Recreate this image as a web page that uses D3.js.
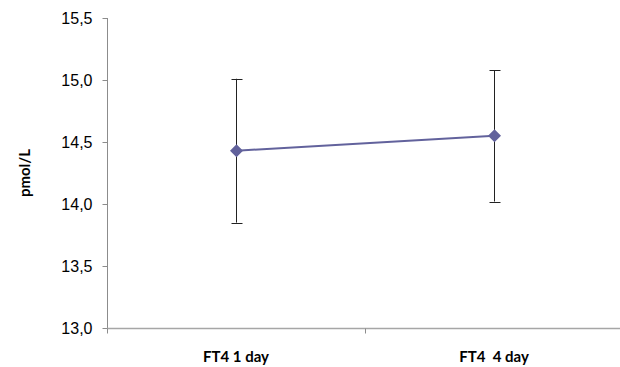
<!DOCTYPE html>
<html>
<head>
<meta charset="utf-8">
<script src="https://d3js.org/d3.v7.min.js"></script>
<style>
  body { margin: 0; background: #fff; }
  #chart { font-family: Lato, "Open Sans", sans-serif; }
  .axis text { font-size: 16px; fill: #000; }
  .x-label { font-size: 15px; font-weight: bold; }
</style>
</head>
<body>
<div id="chart"></div>
<script>
  // data
  var categories = ["FT4 1 day", "FT4  4 day"];
  var means = [14.43, 14.55];
  var errHigh = [15.01, 15.08];
  var errLow = [13.85, 14.02];
  var yTicks = [13.0, 13.5, 14.0, 14.5, 15.0, 15.5];

  var W = 620, H = 367;
  var margin = { top: 18, right: -3, bottom: 39, left: 107 };
  var width = W - margin.left - margin.right,
      height = H - margin.top - margin.bottom;

  var svg = d3.select("#chart").append("svg")
      .attr("width", W).attr("height", H);
  var g = svg.append("g")
      .attr("transform", "translate(" + margin.left + "," + margin.top + ")");

  var x = d3.scaleBand().domain(categories).range([0, width]);
  var y = d3.scaleLinear().domain([13, 15.5]).range([height, 0]);

  var fmt = function(d) { return d3.format(".1f")(d).replace(".", ","); };

  // y axis
  var yAxis = g.append("g").attr("class", "axis")
      .attr("transform", "translate(0.5,0)")
      .call(d3.axisLeft(y).tickValues(yTicks).tickFormat(fmt).tickSize(5).tickPadding(10));
  yAxis.selectAll("path, line").attr("stroke", "#8c8c8c");
  yAxis.select(".domain").attr("d", "M0," + y(13) + "V" + y(15.5));

  // x axis line + boundary ticks
  var xg = g.append("g").attr("transform", "translate(0," + (height + 0.5) + ")");
  xg.append("line").attr("x1", 0).attr("x2", width).attr("stroke", "#a6a6a6").attr("stroke-width", 1.5);
  xg.selectAll(".bt").data([0, 1]).enter().append("line")
      .attr("x1", function(i) { return Math.round(x(categories[i])) + 0.5; })
      .attr("x2", function(i) { return Math.round(x(categories[i])) + 0.5; })
      .attr("y1", 0).attr("y2", 5)
      .attr("stroke", "#8c8c8c");
  xg.selectAll(".x-label").data(categories).enter().append("text")
      .attr("class", "x-label")
      .attr("x", function(d) { return x(d) + x.bandwidth() / 2; })
      .attr("y", 33)
      .attr("text-anchor", "middle")
      .style("white-space", "pre")
      .attr("xml:space", "preserve")
      .text(function(d) { return d; });

  // y title
  svg.append("text")
      .attr("transform", "translate(30," + (margin.top + height / 2) + ") rotate(-90)")
      .attr("text-anchor", "middle")
      .attr("font-size", "15px").attr("font-weight", "bold")
      .text("pmol/L");

  var cx = function(i) { return Math.round(x(categories[i]) + x.bandwidth() / 2) + 0.5; };
  var idx = d3.range(categories.length);

  // error bars
  var eb = g.append("g");
  eb.selectAll(".v").data(idx).enter().append("line")
      .attr("x1", cx).attr("x2", cx)
      .attr("y1", function(i) { return y(errLow[i]); })
      .attr("y2", function(i) { return y(errHigh[i]); })
      .attr("stroke", "#222").attr("stroke-width", 1);
  [errLow, errHigh].forEach(function(arr) {
    eb.selectAll(null).data(idx).enter().append("line")
        .attr("x1", function(i) { return cx(i) - 5; })
        .attr("x2", function(i) { return cx(i) + 6; })
        .attr("y1", function(i) { return Math.round(y(arr[i])) + 0.5; })
        .attr("y2", function(i) { return Math.round(y(arr[i])) + 0.5; })
        .attr("stroke", "#222").attr("stroke-width", 1);
  });

  // line
  var line = d3.line().x(function(i) { return cx(i); }).y(function(i) { return y(means[i]); });
  g.append("path").datum(idx).attr("d", line)
      .attr("fill", "none").attr("stroke", "#62629c").attr("stroke-width", 2);

  // markers
  g.selectAll(".m").data(idx).enter().append("path")
      .attr("transform", function(i) { return "translate(" + cx(i) + "," + y(means[i]) + ")"; })
      .attr("d", "M0,-6.5L6.5,0L0,6.5L-6.5,0Z")
      .attr("fill", "#62629c");
</script>
</body>
</html>
